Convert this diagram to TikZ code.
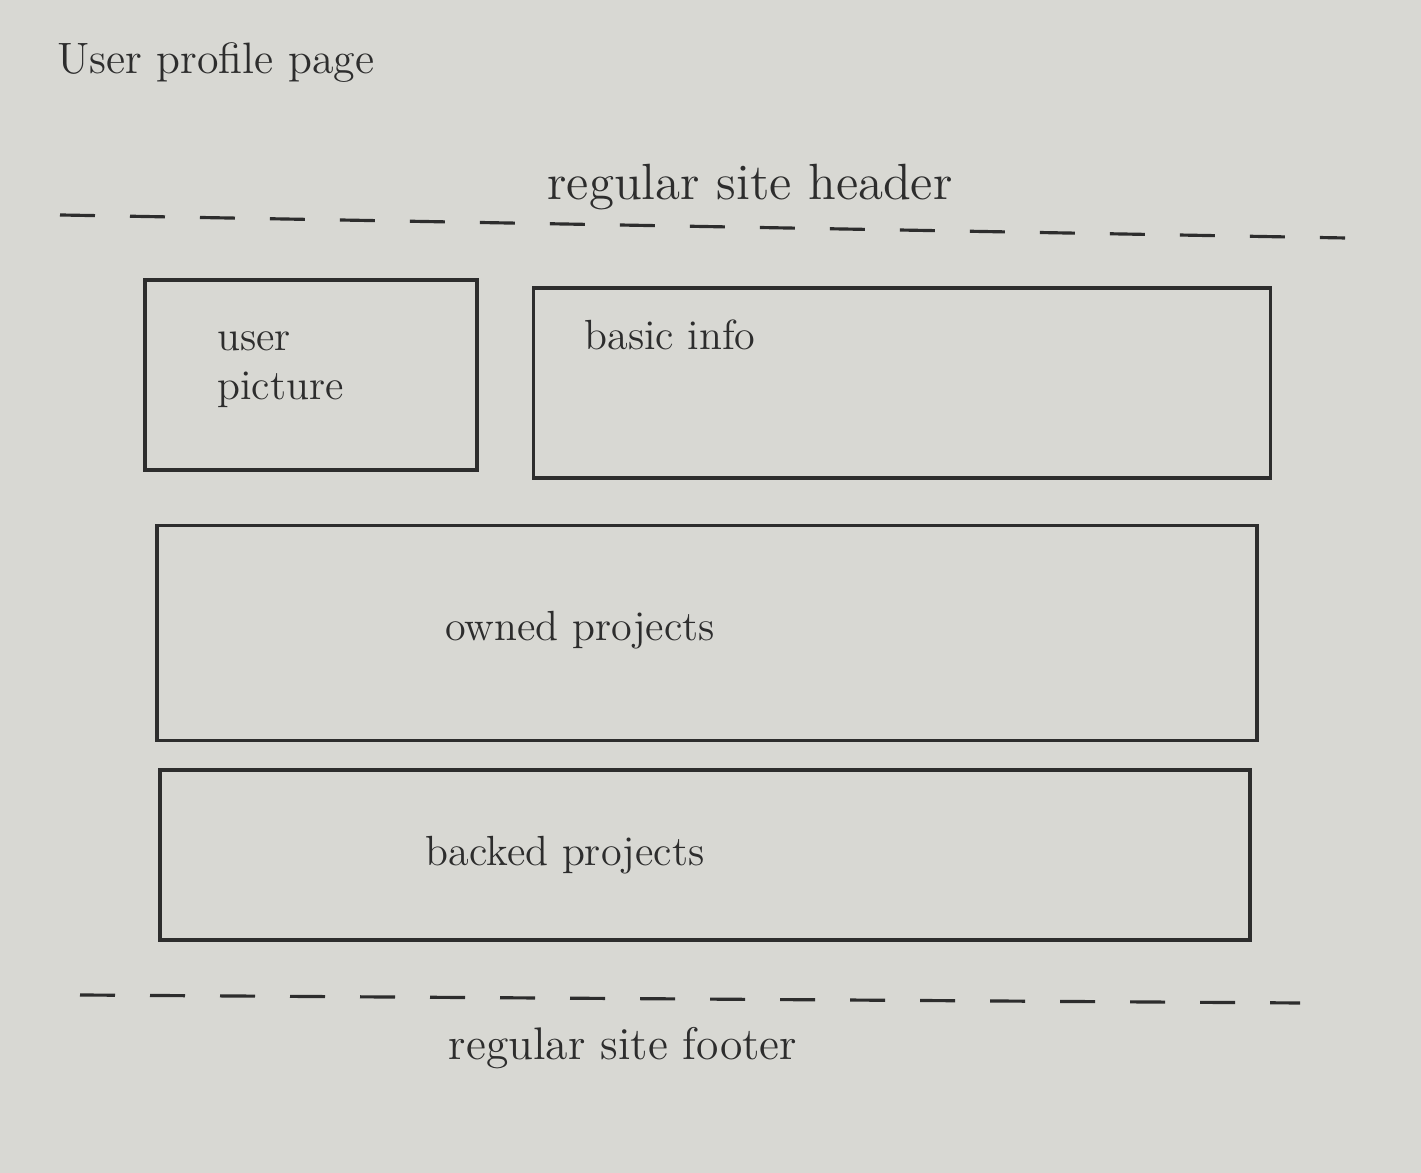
\documentclass[tikz,border=0pt]{standalone}
\usepackage{tikz}
\usetikzlibrary{positioning}
\definecolor{paper}{RGB}{216,216,211}
\definecolor{pen}{RGB}{45,45,45}

\begin{document}
\begin{tikzpicture}[
    box/.style={shape=rectangle,draw=pen,line width=0.9pt},
    txt/.style={text=pen,font=\fontsize{12}{14}\selectfont},
    bigtxt/.style={text=pen,font=\fontsize{14.5}{17}\selectfont},
    rule/.style={draw=pen,line width=0.9pt,dash pattern=on 0.35cm off 0.35cm}
  ]
    \fill[paper] (0,0) rectangle (14.21,11.73);
    \useasboundingbox (0,0) rectangle (14.21,11.73);

    \node[txt,anchor=west,font=\fontsize{12.5}{15}\selectfont] (title) at (0.45,11.1) {User profile page};

    \coordinate (head_l) at (0.6,9.58);
    \coordinate (head_r) at (13.45,9.35);
    \node[bigtxt] (header) at (7.5,9.86) {regular site header};

    \node[box,minimum width=3.32cm,minimum height=1.9cm] (pic) at (3.11,7.98) {};
    \node[box,minimum width=7.37cm,minimum height=1.9cm] (info) at (9.02,7.90) {};
    \node[box,minimum width=11.0cm,minimum height=2.15cm] (owned) at (7.07,5.40) {};
    \node[box,minimum width=10.9cm,minimum height=1.7cm] (backed) at (7.05,3.18) {};

    \node[txt,align=left,anchor=west] (pic_t) at (2.05,8.03) {user\\picture};
    \node[txt,anchor=west] (info_t) at (5.72,8.38) {basic info};
    \node[txt] (owned_t) at (5.8,5.43) {owned projects};
    \node[txt] (backed_t) at (5.65,3.18) {backed projects};

    \coordinate (foot_l) at (0.8,1.78);
    \coordinate (foot_r) at (13.0,1.70);
    \node[txt,font=\fontsize{13}{15}\selectfont] (footer) at (6.23,1.25) {regular site footer};

    \path[rule] (head_l) edge (head_r);
    \path[rule] (foot_l) edge (foot_r);
\end{tikzpicture}
\end{document}
